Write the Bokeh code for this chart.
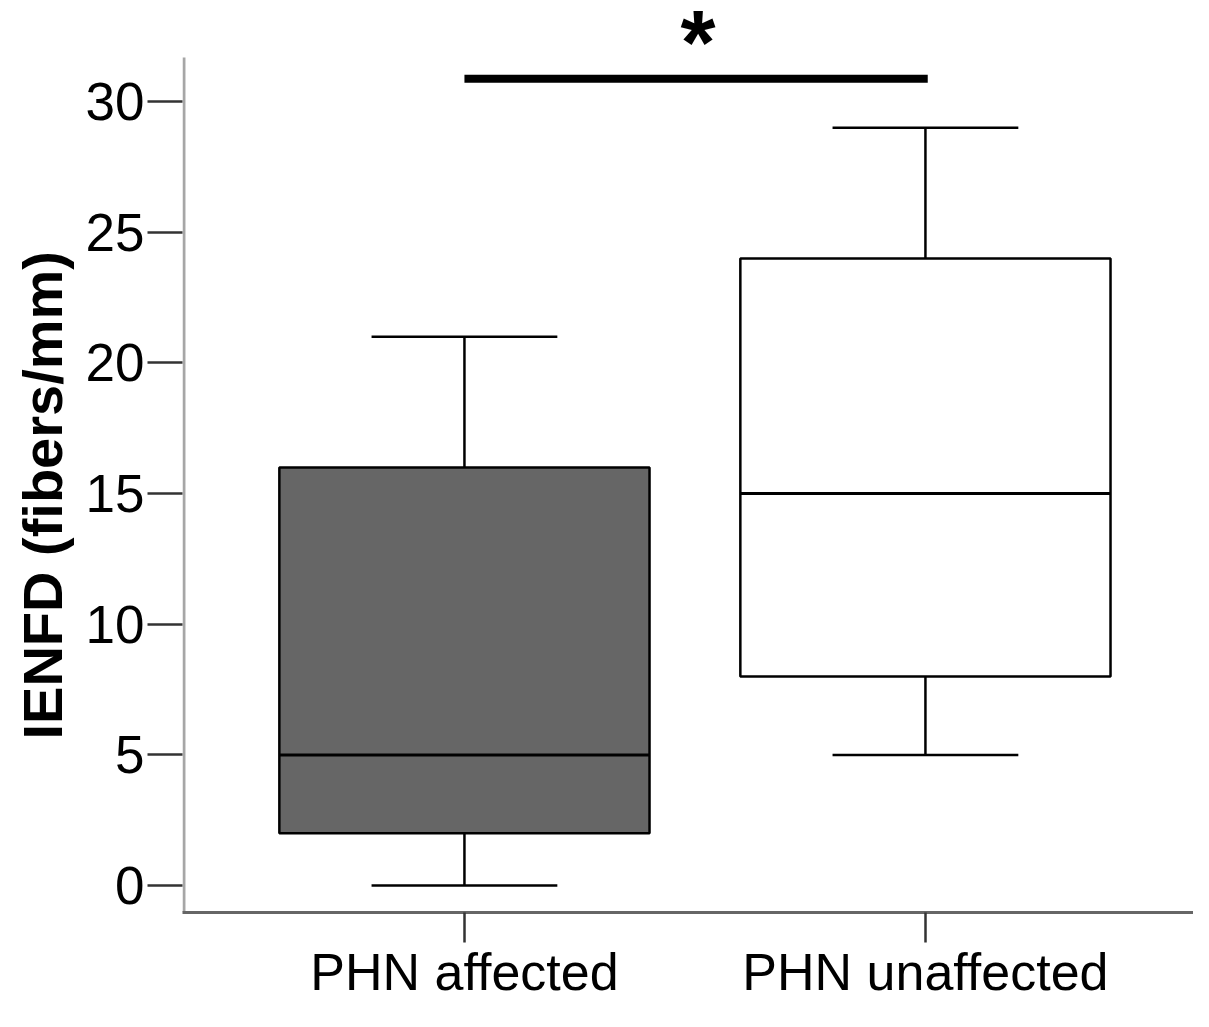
from bokeh.plotting import figure
from bokeh.models import Range1d, FixedTicker, Label, Title
from bokeh.embed import file_html
from bokeh.resources import INLINE

# ---- data ----
groups = ["PHN affected", "PHN unaffected"]
xpos = [1, 2]
whisker_low = [0, 5]
q1 = [2, 8]
median = [5, 15]
q3 = [16, 24]
whisker_high = [21, 29]
fills = ["#666666", "#ffffff"]
y_ticks = [0, 5, 10, 15, 20, 25, 30]
y_title = "IENFD (fibers/mm)"
sig_level = 30.88
sig_text = "*"

FONT = "Liberation Sans"

X0, X1 = 0.3884, 2.5815
Y0, Y1 = -1.03, 33.87
Y_AXIS_TOP = 31.69
p = figure(width=1193, height=1011, output_backend="svg", toolbar_location=None,
           x_range=Range1d(X0, X1), y_range=Range1d(Y0, Y1),
           min_border_left=179, min_border_top=0, min_border_right=0, min_border_bottom=99)
p.outline_line_color = None
p.xgrid.visible = False
p.ygrid.visible = False
p.background_fill_color = "white"
p.border_fill_color = "white"

box_w = 0.803
cap_w = 0.403

# y axis line (stops short of the top of the frame)
p.segment(x0=[X0 + 0.0032], y0=[Y0], x1=[X0 + 0.0032], y1=[Y_AXIS_TOP],
          line_color="#a6a6a6", line_width=3)

# whiskers
p.segment(x0=xpos, y0=q3, x1=xpos, y1=whisker_high, line_color="black", line_width=2.5)
p.segment(x0=xpos, y0=q1, x1=xpos, y1=whisker_low, line_color="black", line_width=2.5)
# caps
p.segment(x0=[x - cap_w / 2 for x in xpos], y0=whisker_high,
          x1=[x + cap_w / 2 for x in xpos], y1=whisker_high, line_color="black", line_width=2.5)
p.segment(x0=[x - cap_w / 2 for x in xpos], y0=whisker_low,
          x1=[x + cap_w / 2 for x in xpos], y1=whisker_low, line_color="black", line_width=2.5)
# boxes
p.vbar(x=xpos, width=box_w, bottom=q1, top=q3, fill_color=fills,
       line_color="black", line_width=2.5)
# medians
p.segment(x0=[x - box_w / 2 for x in xpos], y0=median,
          x1=[x + box_w / 2 for x in xpos], y1=median, line_color="black", line_width=3)

# significance bar and star
p.segment(x0=[xpos[0]], y0=[sig_level], x1=[xpos[1] + 0.005], y1=[sig_level],
          line_color="black", line_width=8, line_cap="butt")
star = Label(x=(xpos[0] + xpos[1]) / 2 + 0.0064, y=32.25, text=sig_text,
             text_font=FONT, text_font_style="bold", text_font_size="90px",
             text_align="center", text_baseline="middle", text_color="black")
p.add_layout(star)

# axes
p.xaxis.ticker = FixedTicker(ticks=xpos)
p.xaxis.major_label_overrides = {x: g for x, g in zip(xpos, groups)}
p.xaxis.minor_tick_line_color = None
p.xaxis.major_tick_out = 30
p.xaxis.major_tick_in = 0
p.xaxis.major_tick_line_color = "#333333"
p.xaxis.major_tick_line_width = 2.5
p.xaxis.axis_line_color = "#666666"
p.xaxis.axis_line_width = 3
p.xaxis.major_label_text_font = FONT
p.xaxis.major_label_text_font_size = "52px"
p.xaxis.major_label_text_color = "black"
p.xaxis.major_label_standoff = 0

p.yaxis.ticker = FixedTicker(ticks=y_ticks)
p.yaxis.minor_tick_line_color = None
p.yaxis.major_tick_out = 35
p.yaxis.major_tick_in = 0
p.yaxis.major_tick_line_color = "#333333"
p.yaxis.major_tick_line_width = 2.5
p.yaxis.axis_line_color = None
p.yaxis.major_label_text_font = FONT
p.yaxis.major_label_text_font_size = "53px"
p.yaxis.major_label_text_color = "black"
p.yaxis.major_label_standoff = 3

ytitle = Title(text=y_title, align="left", offset=173, standoff=17,
               text_font=FONT, text_font_style="bold", text_font_size="56px",
               text_color="black")
p.add_layout(ytitle, "left")

open("out.html", "w").write(file_html(p, INLINE))
